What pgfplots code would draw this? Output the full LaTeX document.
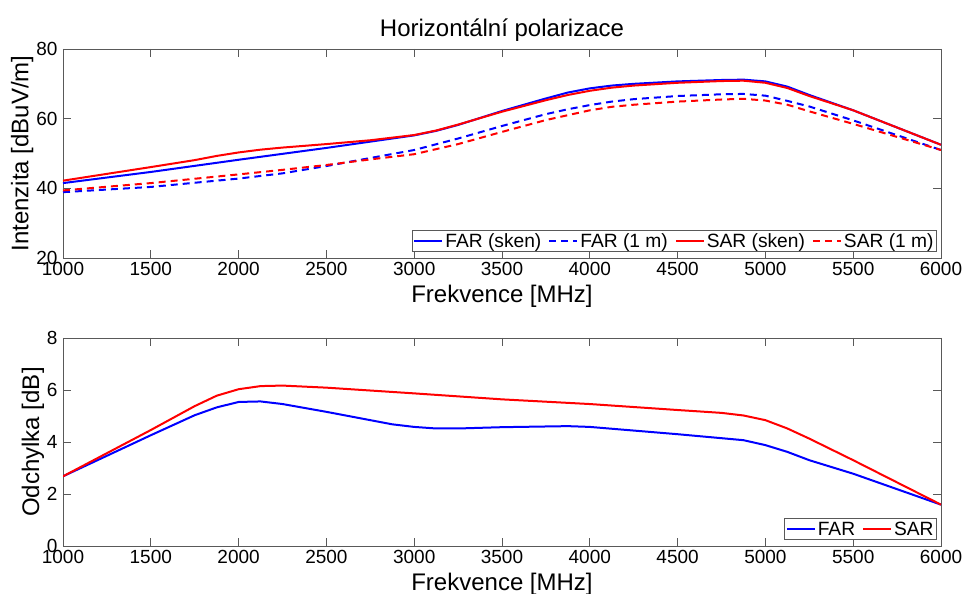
\documentclass[border=0pt]{standalone}
\usepackage{fontspec}
\setmainfont{Liberation Sans}
\usepackage{pgfplots}
\pgfplotsset{compat=1.18}
\definecolor{mblue}{RGB}{0,0,255}
\definecolor{mred}{RGB}{255,0,0}
\pgfplotsset{
  mstyle/.style={
    scale only axis,
    width=878pt,
    xmin=1000, xmax=6000,
    xtick={1000,1500,...,6000},
    axis line style={black!65, line width=0.9pt},
    tick style={black!65, line width=0.9pt},
    tick align=inside,
    major tick length=8pt,
    xtick pos=both, ytick pos=both,
    /pgf/number format/assume math mode=true,
    /pgf/number format/set thousands separator={},
    tick label style={font=\fontsize{19}{22}\selectfont},
    label style={font=\fontsize{24}{27}\selectfont},
    xlabel={Frekvence [MHz]},
    xlabel style={yshift=-2pt},
    ylabel style={yshift=-4pt},
    xticklabel style={yshift=-1pt},
    yticklabel style={xshift=-2pt},
    legend cell align=left,
    legend style={font=\fontsize{19.2}{22}\selectfont, draw=black!65, line width=0.9pt,
      inner sep=1pt, /tikz/every even column/.append style={column sep=5pt}},
    legend image code/.code={\draw[#1] (0pt,0pt) -- (28pt,0pt);},
    every axis plot/.append style={line width=2pt, line join=round},
  }
}
\begin{document}
\begin{tikzpicture}
\useasboundingbox (0pt,0pt) rectangle (967pt,594pt);
% top axis
\begin{axis}[mstyle,
  at={(63pt,336pt)}, anchor=south west,
  height=209pt,
  ymin=20, ymax=80, ytick={20,40,60,80},
  ylabel={Intenzita [dBuV/m]},
  title={Horizontální polarizace},
  title style={font=\fontsize{24}{27}\selectfont, yshift=-2pt},
  legend columns=4,
  legend style={at={(rel axis cs:0.9955,0.028)}, anchor=south east},
]
\addplot[mblue] coordinates {
(1000,41.5)(1500,44.7)(2000,48.2)(2500,51.6)(2750,53.4)(3000,55.2)(3125,56.5)(3250,58.2)(3500,62.2)(3750,65.8)(3875,67.5)(4000,68.7)(4125,69.5)(4250,70.0)(4500,70.7)(4750,71.1)(4875,71.2)(5000,70.7)(5125,69.2)(5250,66.8)(5500,62.4)(6000,52.5)};
\addplot[mblue, dash pattern=on 7pt off 5pt] coordinates {
(1000,38.9)(1500,40.4)(2000,42.8)(2250,44.3)(2500,46.4)(2750,48.7)(3000,51.0)(3250,54.3)(3500,57.9)(3750,61.3)(3875,62.7)(4000,63.9)(4125,64.9)(4250,65.6)(4500,66.5)(4750,67.0)(4875,67.1)(5000,66.6)(5125,65.1)(5250,63.5)(5500,59.5)(6000,51.0)};
\addplot[mred] coordinates {
(1000,42.2)(1500,46.1)(1750,48.1)(1875,49.3)(2000,50.3)(2125,51.1)(2250,51.7)(2500,52.7)(2750,53.8)(3000,55.3)(3125,56.6)(3250,58.3)(3500,62.0)(3750,65.3)(3875,66.8)(4000,68.0)(4125,68.9)(4250,69.5)(4500,70.3)(4750,70.8)(4875,70.9)(5000,70.3)(5125,68.8)(5250,66.5)(5500,62.4)(6000,52.5)};
\addplot[mred, dash pattern=on 7pt off 5pt] coordinates {
(1000,39.4)(1500,41.5)(2000,44.0)(2250,45.3)(2500,46.7)(2750,48.3)(3000,49.8)(3250,52.7)(3500,56.2)(3750,59.6)(3875,61.0)(4000,62.4)(4125,63.4)(4250,64.0)(4500,64.9)(4750,65.5)(4875,65.7)(5000,65.2)(5125,64.0)(5250,62.1)(5500,58.5)(6000,51.0)};
\legend{FAR (sken),FAR (1 m),SAR (sken),SAR (1 m)}
\end{axis}
% bottom axis
\begin{axis}[mstyle,
  at={(63pt,48pt)}, anchor=south west,
  height=208pt,
  ymin=0, ymax=8, ytick={0,2,4,6,8},
  ylabel={Odchylka [dB]},
  legend columns=2,
  legend style={at={(rel axis cs:0.9955,0.028)}, anchor=south east},
]
\addplot[mblue] coordinates {
(1000,2.68)(1500,4.26)(1750,5.03)(1875,5.33)(2000,5.54)(2125,5.56)(2250,5.46)(2500,5.16)(2750,4.84)(2875,4.68)(3000,4.58)(3125,4.52)(3250,4.52)(3500,4.57)(3875,4.61)(4000,4.58)(4125,4.51)(4500,4.30)(4875,4.07)(5000,3.88)(5125,3.62)(5250,3.30)(5500,2.78)(6000,1.59)};
\addplot[mred] coordinates {
(1000,2.68)(1500,4.46)(1750,5.38)(1875,5.78)(2000,6.03)(2125,6.15)(2250,6.17)(2500,6.09)(3000,5.87)(3500,5.64)(4000,5.46)(4500,5.23)(4750,5.12)(4875,5.02)(5000,4.84)(5125,4.52)(5250,4.13)(5500,3.30)(6000,1.59)};
\legend{FAR,SAR}
\end{axis}
\end{tikzpicture}
\end{document}
